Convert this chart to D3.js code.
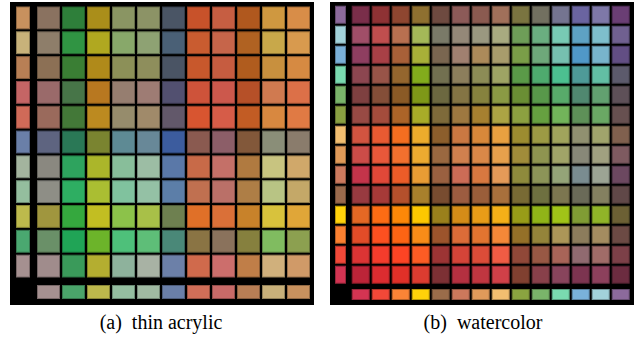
<!DOCTYPE html>
<html>
<head>
<meta charset="utf-8">
<script src="https://cdn.jsdelivr.net/npm/d3@7"></script>
<style>
  body { margin: 0; background: #fff; }
  svg { display: block; }
  .caption { font-family: "Liberation Serif", "Tinos", "Times New Roman", "DejaVu Serif", serif; font-size: 20px; }
</style>
</head>
<body>
<svg id="chart" width="642" height="339"></svg>
<script>
// (a) thin acrylic: base paints down the side, mixes in the grid
const acrylicSide = ["#C8915E", "#C8B27A", "#B87F55", "#C56565", "#D06A58", "#6A7FA8",
  "#A3B49E", "#94BE9E", "#BDBA4C", "#4AA870", "#A59090"];
const acrylicBottom = ["#A59090", "#4AA46A", "#BCB84C", "#94BEA0", "#A0BAA2", "#6A7FA8",
  "#D06E58", "#C86A68", "#B87E55", "#C8B07A", "#C8915E"];
const acrylicGrid = [
  ["#8A7260", "#2E7F3A", "#AA8E1A", "#8A9563", "#8C9366", "#4A5565", "#C8522A", "#C65E42", "#B0581E", "#CF9840", "#D88D48"],
  ["#8E7E6A", "#309443", "#B0A820", "#88A86A", "#8EA273", "#4A6076", "#C95C30", "#C6654A", "#B06222", "#C8A84A", "#D89A4E"],
  ["#8C7055", "#3A7E34", "#B08A1A", "#8C9058", "#8E8E5C", "#4A5464", "#C8582C", "#C65C40", "#B05C1E", "#C8903E", "#D68A42"],
  ["#9A6A6A", "#477548", "#B87820", "#967E70", "#9E7C74", "#525070", "#CE533A", "#CC584C", "#B65028", "#D07A50", "#DC7048"],
  ["#9A6A5C", "#437838", "#BC8A20", "#968C6C", "#A08A6A", "#62586A", "#D85530", "#D65C48", "#C25C24", "#D88840", "#E07A44"],
  ["#5E6480", "#2A7856", "#7A8430", "#5E8A94", "#688898", "#3C5C9E", "#8A5A50", "#8C5E68", "#82583A", "#8A8E78", "#8A7C6C"],
  ["#8A8880", "#2EA35E", "#ABB62A", "#88BE9A", "#9CBDA4", "#5A78A8", "#C86A48", "#C47068", "#B07A40", "#C8C480", "#D0A86A"],
  ["#8E8E86", "#2EAE62", "#AABE32", "#80C29E", "#94C1A5", "#5C7EA8", "#C07050", "#BA7068", "#AE7E46", "#B8C484", "#C4A868"],
  ["#A0963E", "#35A83E", "#C2BE22", "#8CC24A", "#A8C048", "#6E8050", "#E07028", "#DA7038", "#C8822A", "#D8C23C", "#E0A638"],
  ["#6A9068", "#20A456", "#6CB42A", "#4EC07A", "#5EBE78", "#4A8878", "#8A7444", "#8A725C", "#86803E", "#80BC60", "#8CA050"],
  ["#A08C8C", "#3A9A5A", "#B4AE30", "#8EB29C", "#A8B2A4", "#6C80A8", "#D06A4C", "#CC6E6C", "#C07E48", "#D0B07C", "#D09A68"]
];

// (b) watercolor
const watercolorSide = ["#8C6A9C", "#A2D2DA", "#7AB0D8", "#7ADAB0", "#7AB46A", "#8AA042", "#F2BE70",
  "#E09A58", "#CC7A5E", "#9A6A4C", "#FFD20A", "#FA8030", "#F04838", "#D23452"];
const watercolorBottom = ["#D43452", "#F24838", "#FA8436", "#FFD20A", "#9A6C4A", "#CC785C", "#E09A5A",
  "#F2BE70", "#8AA440", "#7AB46A", "#7ADAB0", "#7AB2DA", "#A2D2DA", "#8C6A9C"];
const watercolorGrid = [
  ["#7A2E4A", "#8E3234", "#8E4630", "#8E7030", "#6E4A40", "#8C5A58", "#8A5A50", "#A0705A", "#7A7440", "#727060", "#747490", "#6A64A0", "#7E78A8", "#6A3E74"],
  ["#A04E68", "#C04E4E", "#B87050", "#A4B858", "#7A7A68", "#948878", "#9A9880", "#A8AA80", "#6E9E58", "#6AAE80", "#78CAB4", "#5EA2C4", "#7EBECC", "#706090"],
  ["#8E3E60", "#A84046", "#A86038", "#A8B038", "#7A6650", "#A08070", "#AC8A5A", "#A89C6C", "#7A9E48", "#6EA87A", "#76C0B0", "#5098C8", "#78B4CC", "#624E84"],
  ["#8C4650", "#985448", "#94662E", "#82AC1C", "#727050", "#8C7E5C", "#8C8C56", "#9EA464", "#5A9A48", "#4EAA6E", "#4CC090", "#4E9A98", "#62BEA4", "#5C5A6C"],
  ["#7E4040", "#844E38", "#8A5A26", "#7E9818", "#6C6840", "#847444", "#86823E", "#8A9A44", "#6A8E34", "#58984A", "#58AA6A", "#508870", "#62A070", "#5E5058"],
  ["#984A44", "#A44C3C", "#AC6428", "#A8AC28", "#7E6A3A", "#9E7840", "#A68030", "#ACA444", "#8CA040", "#66A040", "#72B45A", "#5E9058", "#6AA864", "#675050"],
  ["#D25440", "#E85A32", "#F46E20", "#ECAC2C", "#8C5E2C", "#CA7842", "#D8883A", "#E8A040", "#9C8C30", "#9C9A44", "#A0A45C", "#909070", "#A0A46C", "#80604E"],
  ["#CC4C48", "#E8583A", "#F2702E", "#ECAA30", "#9A6840", "#D0804E", "#DA8848", "#E6A04C", "#A08C3A", "#8E9450", "#A0A468", "#888878", "#A0A080", "#7E5A60"],
  ["#C4344A", "#E04838", "#EC5C28", "#E89C34", "#9A6040", "#CC6C56", "#D87840", "#E49A58", "#8E8A3C", "#8C9458", "#94A478", "#7A8C90", "#9CA494", "#6C4860"],
  ["#983A40", "#A63A38", "#B4502C", "#A8802C", "#784C30", "#9C5C40", "#9A5E3A", "#A8703C", "#786A34", "#6E7040", "#7C7650", "#6A6A58", "#848060", "#604848"],
  ["#E46824", "#FC6C14", "#FC8808", "#FCC800", "#9A801C", "#D48C18", "#E89C18", "#F4B018", "#989C18", "#90B418", "#A0C418", "#809C34", "#90B428", "#6C6034"],
  ["#E24C28", "#FC5020", "#FC6414", "#F88C18", "#9C542C", "#DC6C38", "#E27430", "#F48838", "#947028", "#94843A", "#AC9658", "#8C7C5C", "#A48C60", "#6C4A44"],
  ["#DC3434", "#F43C2C", "#FC4424", "#FC5C24", "#9C3434", "#D44438", "#DC4C38", "#F05C44", "#904838", "#985844", "#A86458", "#906A70", "#A06C68", "#7C4048"],
  ["#BC2438", "#DC2C30", "#E03028", "#DC3C30", "#7C3034", "#B43040", "#C03640", "#D04048", "#804030", "#88404A", "#88445C", "#7C3450", "#8C405C", "#6C2C40"]
];

const captions = ["(a)\u00a0\u00a0thin acrylic", "(b)\u00a0\u00a0watercolor"];

const svg = d3.select("#chart");

// one mixing chart: black board, side swatches, grid, bottom swatches, caption
function drawPanel(cfg) {
  const g = svg.append("g");
  const n = cfg.grid.length;

  g.append("rect")
    .attr("x", cfg.board[0]).attr("y", cfg.board[1])
    .attr("width", cfg.board[2] - cfg.board[0])
    .attr("height", cfg.board[3] - cfg.board[1])
    .attr("fill", "#000");

  const x = d3.scaleBand().domain(d3.range(n)).range(cfg.xRange)
    .paddingInner(cfg.pad).paddingOuter(cfg.pad / 2);
  const y = d3.scaleBand().domain(d3.range(n)).range(cfg.yRange)
    .paddingInner(cfg.pad).paddingOuter(cfg.pad / 2);

  const edge = c => d3.color(c).darker(0.9);

  // grid cells
  g.append("g").selectAll("g")
    .data(cfg.grid)
    .join("g")
    .attr("transform", (row, i) => `translate(0,${y(i)})`)
    .selectAll("rect")
    .data(row => row)
    .join("rect")
      .attr("x", (d, j) => x(j) + 0.5)
      .attr("y", 0.5)
      .attr("width", x.bandwidth() - 1)
      .attr("height", y.bandwidth() - 1)
      .attr("fill", d => d)
      .attr("stroke", edge)
      .attr("stroke-width", 1);

  // side swatches
  g.append("g").selectAll("rect")
    .data(cfg.side)
    .join("rect")
      .attr("x", cfg.sideX[0] + 0.5)
      .attr("y", (d, i) => y(i) + 0.5)
      .attr("width", cfg.sideX[1] - cfg.sideX[0] - 1)
      .attr("height", y.bandwidth() - 1)
      .attr("fill", d => d)
      .attr("stroke", edge);

  // bottom swatches
  g.append("g").selectAll("rect")
    .data(cfg.bottom)
    .join("rect")
      .attr("x", (d, j) => x(j) + 0.5)
      .attr("y", cfg.bottomY[0] + 0.5)
      .attr("width", x.bandwidth() - 1)
      .attr("height", cfg.bottomY[1] - cfg.bottomY[0] - 1)
      .attr("fill", d => d)
      .attr("stroke", edge);

  svg.append("text")
    .attr("class", "caption")
    .attr("x", cfg.captionX)
    .attr("y", 329)
    .attr("text-anchor", "middle")
    .attr("fill", "#000")
    .text(cfg.caption);
}

drawPanel({
  grid: acrylicGrid, side: acrylicSide, bottom: acrylicBottom,
  board: [10, 2, 314, 305],
  xRange: [36, 311], yRange: [5.5, 278.5], pad: 0.08,
  sideX: [16, 30], bottomY: [285, 299],
  captionX: 161, caption: captions[0]
});

drawPanel({
  grid: watercolorGrid, side: watercolorSide, bottom: watercolorBottom,
  board: [330, 2, 634, 305],
  xRange: [350.7, 630.7], yRange: [4.7, 284.7], pad: 0.1,
  sideX: [335, 346], bottomY: [289, 300],
  captionX: 483, caption: captions[1]
});
</script>
</body>
</html>
